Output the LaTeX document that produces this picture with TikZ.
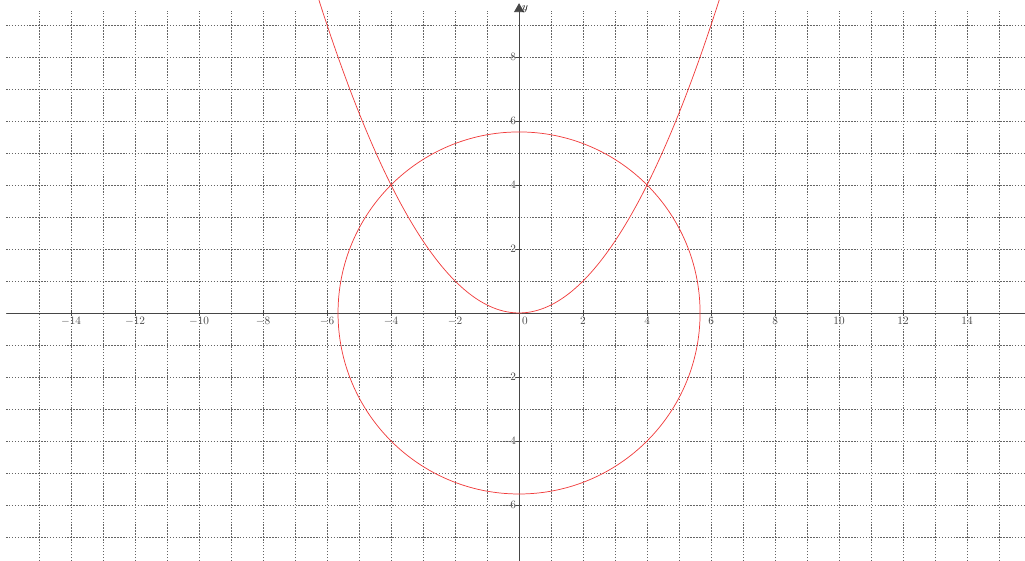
\documentclass[tikz,border=0pt]{standalone}
\usepackage{tikz}
\usetikzlibrary{arrows.meta}
\usepackage{xcolor}

\definecolor{curvered}{RGB}{240,60,60}
\definecolor{gridgray}{RGB}{100,100,100}
\definecolor{labelgray}{RGB}{70,70,70}

\begin{document}
\begin{tikzpicture}[
		gridline/.style={gridgray, line width=0.55pt, dash pattern=on 1.3pt off 1.3pt},
		axisline/.style={labelgray, line width=0.8pt},
		curve/.style={curvered, line width=0.65pt},
		ticklabel/.style={labelgray, font=\normalsize, inner sep=1pt}
	]
		
		% Frame of the picture
		\useasboundingbox (-16.22,-7.75) rectangle (15.81,9.78);
		\clip (-16.22,-7.75) rectangle (15.81,9.78);
		
		% Grid
		\foreach \x in {-15,...,15}
		\draw[gridline] (\x,-7.75) -- (\x,9.45);
		\foreach \y in {-7,...,9}
		\draw[gridline] (-16.03,\y) -- (15.81,\y);
		
		% Axes
		\draw[axisline] (-16.0,0) -- (15.81,0);
		\draw[axisline, -{Triangle[length=8pt,width=9pt]}] (0,-7.75) -- (0,9.68)
		node[right, black, font=\normalsize, xshift=-1pt, yshift=-5pt] {$y$};
		
		% Tick labels
		\foreach \x in {-14,-12,...,-2,2,4,...,14} {
			\draw[axisline] (\x,-0.08) -- (\x,0.08);
			\node[ticklabel, anchor=north] at (\x,-0.1) {$\x$};
		}
		\foreach \y in {-6,-4,-2,2,4,6,8} {
			\draw[axisline] (-0.08,\y) -- (0.08,\y);
			\node[ticklabel, anchor=east] at (-0.05,\y) {$\y$};
		}
		\node[ticklabel, anchor=north west] at (0.05,-0.1) {$0$};
		
		% Circle x^2+y^2=32
		\draw[curve] (0,0) circle ({sqrt(32)});
		
		% Parabola y=x^2/4
		\draw[curve, domain=-6.4:6.4, samples=120, smooth]
		plot (\x,{\x*\x/4});
		
	\end{tikzpicture}
\end{document}
